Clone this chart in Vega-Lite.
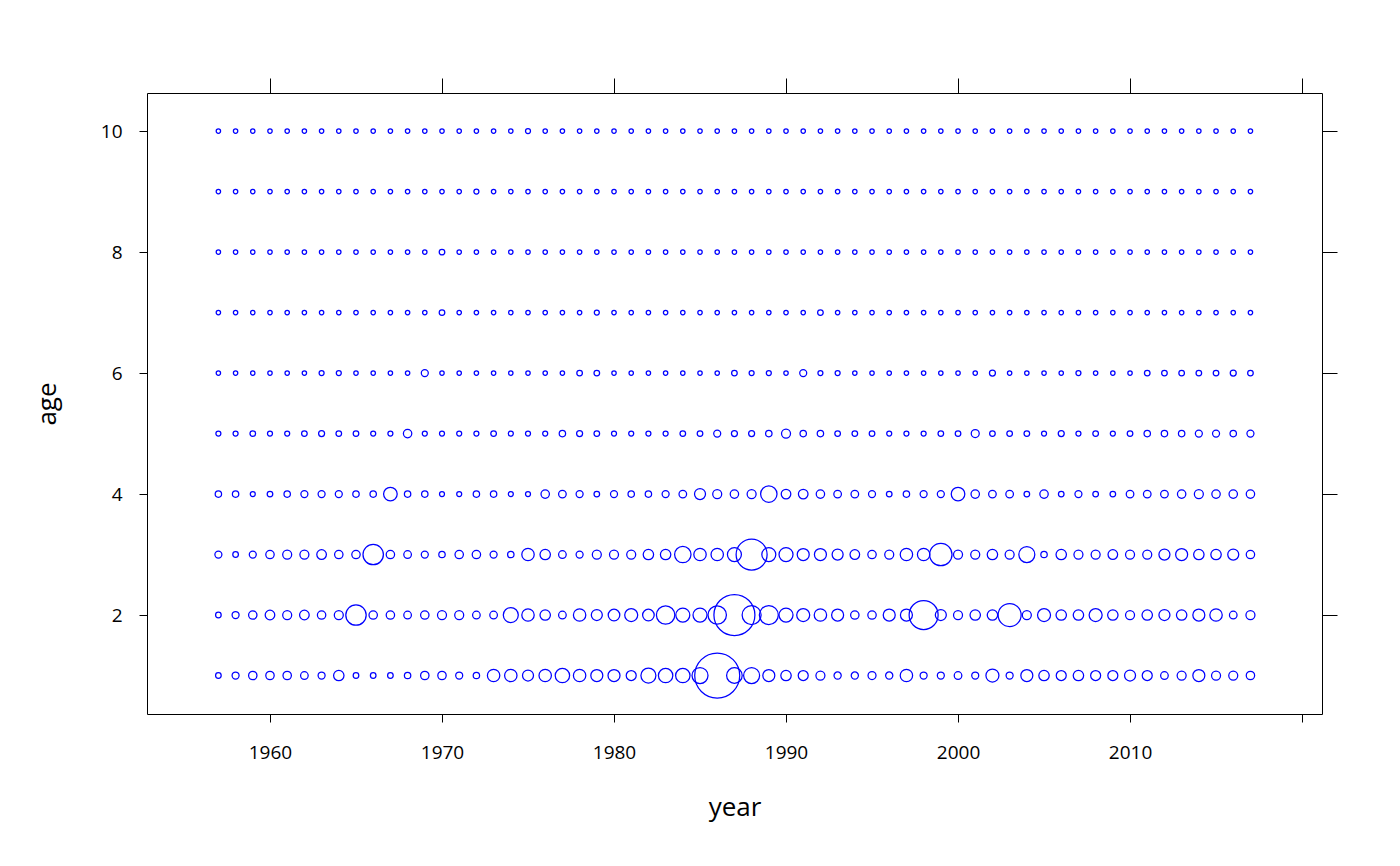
{
"$schema":"https://vega.github.io/schema/vega-lite/v6.json",
"width":1175,"height":621,"autosize":"none",
"padding":{"left":147,"top":93,"right":78,"bottom":152},
"background":"white",
"config":{"view":{"stroke":"black","strokeWidth":1},"axis":{"grid":false,"domain":false,"tickColor":"black","tickSize":8,"labelColor":"black","labelFont":"Open Sans","labelFontSize":19,"titleFont":"Open Sans","titleFontWeight":"normal","titleFontSize":26,"titleColor":"black"}},
"datasets":{"d":[
{"year":1957,"age":1,"r":2.8},{"year":1958,"age":1,"r":3.5},{"year":1959,"age":1,"r":4.2},{"year":1960,"age":1,"r":4.2},{"year":1961,"age":1,"r":4.2},{"year":1962,"age":1,"r":3.8},{"year":1963,"age":1,"r":3.5},{"year":1964,"age":1,"r":5.2},{"year":1965,"age":1,"r":2.8},{"year":1966,"age":1,"r":2.8},{"year":1967,"age":1,"r":2.8},{"year":1968,"age":1,"r":3.2},{"year":1969,"age":1,"r":4.2},{"year":1970,"age":1,"r":4.2},{"year":1971,"age":1,"r":3.5},{"year":1972,"age":1,"r":3.2},{"year":1973,"age":1,"r":6.2},{"year":1974,"age":1,"r":6.2},{"year":1975,"age":1,"r":5.5},{"year":1976,"age":1,"r":6.2},
{"year":1977,"age":1,"r":7.2},{"year":1978,"age":1,"r":6.2},{"year":1979,"age":1,"r":6},{"year":1980,"age":1,"r":6},{"year":1981,"age":1,"r":5},{"year":1982,"age":1,"r":7.5},{"year":1983,"age":1,"r":7.2},{"year":1984,"age":1,"r":7.2},{"year":1985,"age":1,"r":8},{"year":1986,"age":1,"r":22.5},{"year":1987,"age":1,"r":7.8},{"year":1988,"age":1,"r":8},{"year":1989,"age":1,"r":6},{"year":1990,"age":1,"r":5.2},{"year":1991,"age":1,"r":5},{"year":1992,"age":1,"r":4.5},{"year":1993,"age":1,"r":3.6},{"year":1994,"age":1,"r":3.6},{"year":1995,"age":1,"r":4},{"year":1996,"age":1,"r":3.6},
{"year":1997,"age":1,"r":6.2},{"year":1998,"age":1,"r":3.5},{"year":1999,"age":1,"r":3.5},{"year":2000,"age":1,"r":3.8},{"year":2001,"age":1,"r":3.5},{"year":2002,"age":1,"r":6.5},{"year":2003,"age":1,"r":3.5},{"year":2004,"age":1,"r":6},{"year":2005,"age":1,"r":5.2},{"year":2006,"age":1,"r":5},{"year":2007,"age":1,"r":5.2},{"year":2008,"age":1,"r":5},{"year":2009,"age":1,"r":5},{"year":2010,"age":1,"r":5.5},{"year":2011,"age":1,"r":5},{"year":2012,"age":1,"r":3.8},{"year":2013,"age":1,"r":4.5},{"year":2014,"age":1,"r":6},{"year":2015,"age":1,"r":4.5},{"year":2016,"age":1,"r":4.5},{"year":2017,"age":1,"r":4.2},
{"year":1957,"age":2,"r":2.8},{"year":1958,"age":2,"r":3.5},{"year":1959,"age":2,"r":4.2},{"year":1960,"age":2,"r":4.8},{"year":1961,"age":2,"r":4.5},{"year":1962,"age":2,"r":4.8},{"year":1963,"age":2,"r":4.2},{"year":1964,"age":2,"r":4.5},{"year":1965,"age":2,"r":10.2},{"year":1966,"age":2,"r":4.2},{"year":1967,"age":2,"r":4.2},{"year":1968,"age":2,"r":3.8},{"year":1969,"age":2,"r":4.2},{"year":1970,"age":2,"r":4.5},{"year":1971,"age":2,"r":4.5},{"year":1972,"age":2,"r":3.8},{"year":1973,"age":2,"r":3.8},{"year":1974,"age":2,"r":7.5},{"year":1975,"age":2,"r":6.2},{"year":1976,"age":2,"r":5.2},
{"year":1977,"age":2,"r":3.8},{"year":1978,"age":2,"r":6.2},{"year":1979,"age":2,"r":5.5},{"year":1980,"age":2,"r":5.8},{"year":1981,"age":2,"r":6.5},{"year":1982,"age":2,"r":5.8},{"year":1983,"age":2,"r":9.2},{"year":1984,"age":2,"r":7},{"year":1985,"age":2,"r":7},{"year":1986,"age":2,"r":9.2},{"year":1987,"age":2,"r":20.5},{"year":1988,"age":2,"r":9.5},{"year":1989,"age":2,"r":9.5},{"year":1990,"age":2,"r":7},{"year":1991,"age":2,"r":6.5},{"year":1992,"age":2,"r":6.2},{"year":1993,"age":2,"r":6},{"year":1994,"age":2,"r":4.2},{"year":1995,"age":2,"r":4.2},{"year":1996,"age":2,"r":6},
{"year":1997,"age":2,"r":6},{"year":1998,"age":2,"r":14.5},{"year":1999,"age":2,"r":5.5},{"year":2000,"age":2,"r":4.5},{"year":2001,"age":2,"r":5.2},{"year":2002,"age":2,"r":5.2},{"year":2003,"age":2,"r":11.5},{"year":2004,"age":2,"r":4.5},{"year":2005,"age":2,"r":6.5},{"year":2006,"age":2,"r":5.2},{"year":2007,"age":2,"r":5.2},{"year":2008,"age":2,"r":6.5},{"year":2009,"age":2,"r":5.2},{"year":2010,"age":2,"r":4.5},{"year":2011,"age":2,"r":5.2},{"year":2012,"age":2,"r":5.5},{"year":2013,"age":2,"r":5.2},{"year":2014,"age":2,"r":6},{"year":2015,"age":2,"r":6.2},{"year":2016,"age":2,"r":3.8},{"year":2017,"age":2,"r":4.5},
{"year":1957,"age":3,"r":3.5},{"year":1958,"age":3,"r":2.8},{"year":1959,"age":3,"r":3.5},{"year":1960,"age":3,"r":4.2},{"year":1961,"age":3,"r":4.5},{"year":1962,"age":3,"r":4.5},{"year":1963,"age":3,"r":4.8},{"year":1964,"age":3,"r":4.2},{"year":1965,"age":3,"r":4.2},{"year":1966,"age":3,"r":10.2},{"year":1967,"age":3,"r":4.2},{"year":1968,"age":3,"r":3.8},{"year":1969,"age":3,"r":3.5},{"year":1970,"age":3,"r":3.2},{"year":1971,"age":3,"r":4.2},{"year":1972,"age":3,"r":4.2},{"year":1973,"age":3,"r":3.5},{"year":1974,"age":3,"r":3.2},{"year":1975,"age":3,"r":6.2},{"year":1976,"age":3,"r":5.2},
{"year":1977,"age":3,"r":3.8},{"year":1978,"age":3,"r":3.5},{"year":1979,"age":3,"r":4.5},{"year":1980,"age":3,"r":4.5},{"year":1981,"age":3,"r":4.5},{"year":1982,"age":3,"r":5.2},{"year":1983,"age":3,"r":5.2},{"year":1984,"age":3,"r":8.2},{"year":1985,"age":3,"r":6.2},{"year":1986,"age":3,"r":6.2},{"year":1987,"age":3,"r":7},{"year":1988,"age":3,"r":15.5},{"year":1989,"age":3,"r":7},{"year":1990,"age":3,"r":7},{"year":1991,"age":3,"r":6},{"year":1992,"age":3,"r":6},{"year":1993,"age":3,"r":5.5},{"year":1994,"age":3,"r":4.8},{"year":1995,"age":3,"r":4.2},{"year":1996,"age":3,"r":4.5},
{"year":1997,"age":3,"r":6.2},{"year":1998,"age":3,"r":6.2},{"year":1999,"age":3,"r":11.2},{"year":2000,"age":3,"r":4.5},{"year":2001,"age":3,"r":4.5},{"year":2002,"age":3,"r":5.2},{"year":2003,"age":3,"r":4.5},{"year":2004,"age":3,"r":8},{"year":2005,"age":3,"r":3.2},{"year":2006,"age":3,"r":5.2},{"year":2007,"age":3,"r":4.5},{"year":2008,"age":3,"r":4.5},{"year":2009,"age":3,"r":4.8},{"year":2010,"age":3,"r":4.5},{"year":2011,"age":3,"r":4.5},{"year":2012,"age":3,"r":5.5},{"year":2013,"age":3,"r":6},{"year":2014,"age":3,"r":5.2},{"year":2015,"age":3,"r":5.2},{"year":2016,"age":3,"r":5.5},{"year":2017,"age":3,"r":4.2},
{"year":1957,"age":4,"r":3.2},{"year":1958,"age":4,"r":3.2},{"year":1959,"age":4,"r":2.5},{"year":1960,"age":4,"r":2.8},{"year":1961,"age":4,"r":3.2},{"year":1962,"age":4,"r":3.5},{"year":1963,"age":4,"r":3.5},{"year":1964,"age":4,"r":3.5},{"year":1965,"age":4,"r":3.2},{"year":1966,"age":4,"r":3.2},{"year":1967,"age":4,"r":6.8},{"year":1968,"age":4,"r":3.2},{"year":1969,"age":4,"r":3.2},{"year":1970,"age":4,"r":2.5},{"year":1971,"age":4,"r":2.5},{"year":1972,"age":4,"r":3.2},{"year":1973,"age":4,"r":3.2},{"year":1974,"age":4,"r":2.5},{"year":1975,"age":4,"r":2.5},{"year":1976,"age":4,"r":4.2},
{"year":1977,"age":4,"r":3.8},{"year":1978,"age":4,"r":3.5},{"year":1979,"age":4,"r":2.8},{"year":1980,"age":4,"r":3.5},{"year":1981,"age":4,"r":3.2},{"year":1982,"age":4,"r":3.2},{"year":1983,"age":4,"r":3.5},{"year":1984,"age":4,"r":3.8},{"year":1985,"age":4,"r":5.5},{"year":1986,"age":4,"r":4.5},{"year":1987,"age":4,"r":4.2},{"year":1988,"age":4,"r":4.5},{"year":1989,"age":4,"r":8.2},{"year":1990,"age":4,"r":4.8},{"year":1991,"age":4,"r":4.8},{"year":1992,"age":4,"r":4.2},{"year":1993,"age":4,"r":3.8},{"year":1994,"age":4,"r":3.8},{"year":1995,"age":4,"r":3.5},{"year":1996,"age":4,"r":2.8},
{"year":1997,"age":4,"r":3.2},{"year":1998,"age":4,"r":3.5},{"year":1999,"age":4,"r":3.5},{"year":2000,"age":4,"r":6.8},{"year":2001,"age":4,"r":4.2},{"year":2002,"age":4,"r":3.8},{"year":2003,"age":4,"r":3.8},{"year":2004,"age":4,"r":2.8},{"year":2005,"age":4,"r":4.2},{"year":2006,"age":4,"r":2.8},{"year":2007,"age":4,"r":3.5},{"year":2008,"age":4,"r":2.8},{"year":2009,"age":4,"r":2.8},{"year":2010,"age":4,"r":3.8},{"year":2011,"age":4,"r":3.8},{"year":2012,"age":4,"r":3.8},{"year":2013,"age":4,"r":4.2},{"year":2014,"age":4,"r":4.5},{"year":2015,"age":4,"r":4.2},{"year":2016,"age":4,"r":4.2},{"year":2017,"age":4,"r":4.2},
{"year":1957,"age":5,"r":2.5},{"year":1958,"age":5,"r":2.5},{"year":1959,"age":5,"r":2.8},{"year":1960,"age":5,"r":2.5},{"year":1961,"age":5,"r":2.5},{"year":1962,"age":5,"r":2.8},{"year":1963,"age":5,"r":3},{"year":1964,"age":5,"r":2.8},{"year":1965,"age":5,"r":2.8},{"year":1966,"age":5,"r":2.5},{"year":1967,"age":5,"r":2.5},{"year":1968,"age":5,"r":4.2},{"year":1969,"age":5,"r":2.5},{"year":1970,"age":5,"r":2.5},{"year":1971,"age":5,"r":2.5},{"year":1972,"age":5,"r":2.5},{"year":1973,"age":5,"r":2.8},{"year":1974,"age":5,"r":2.5},{"year":1975,"age":5,"r":2.5},{"year":1976,"age":5,"r":2.5},
{"year":1977,"age":5,"r":3.2},{"year":1978,"age":5,"r":3},{"year":1979,"age":5,"r":2.8},{"year":1980,"age":5,"r":2.5},{"year":1981,"age":5,"r":2.5},{"year":1982,"age":5,"r":2.5},{"year":1983,"age":5,"r":2.5},{"year":1984,"age":5,"r":2.8},{"year":1985,"age":5,"r":2.8},{"year":1986,"age":5,"r":3.5},{"year":1987,"age":5,"r":3},{"year":1988,"age":5,"r":3},{"year":1989,"age":5,"r":3.2},{"year":1990,"age":5,"r":4.5},{"year":1991,"age":5,"r":3.2},{"year":1992,"age":5,"r":3.2},{"year":1993,"age":5,"r":2.8},{"year":1994,"age":5,"r":2.8},{"year":1995,"age":5,"r":2.8},{"year":1996,"age":5,"r":2.5},
{"year":1997,"age":5,"r":2.5},{"year":1998,"age":5,"r":2.5},{"year":1999,"age":5,"r":2.8},{"year":2000,"age":5,"r":2.8},{"year":2001,"age":5,"r":4},{"year":2002,"age":5,"r":2.8},{"year":2003,"age":5,"r":2.8},{"year":2004,"age":5,"r":2.8},{"year":2005,"age":5,"r":2.5},{"year":2006,"age":5,"r":3},{"year":2007,"age":5,"r":2.5},{"year":2008,"age":5,"r":2.8},{"year":2009,"age":5,"r":2.5},{"year":2010,"age":5,"r":2.8},{"year":2011,"age":5,"r":3.2},{"year":2012,"age":5,"r":3.2},{"year":2013,"age":5,"r":3.2},{"year":2014,"age":5,"r":3.5},{"year":2015,"age":5,"r":3.5},{"year":2016,"age":5,"r":3.2},{"year":2017,"age":5,"r":3.5},
{"year":1957,"age":6,"r":2.2},{"year":1958,"age":6,"r":2.2},{"year":1959,"age":6,"r":2.2},{"year":1960,"age":6,"r":2.2},{"year":1961,"age":6,"r":2.2},{"year":1962,"age":6,"r":2.2},{"year":1963,"age":6,"r":2.5},{"year":1964,"age":6,"r":2.5},{"year":1965,"age":6,"r":2.2},{"year":1966,"age":6,"r":2.2},{"year":1967,"age":6,"r":2.2},{"year":1968,"age":6,"r":2.2},{"year":1969,"age":6,"r":3.5},{"year":1970,"age":6,"r":2.2},{"year":1971,"age":6,"r":2.2},{"year":1972,"age":6,"r":2.2},{"year":1973,"age":6,"r":2.2},{"year":1974,"age":6,"r":2.2},{"year":1975,"age":6,"r":2.2},{"year":1976,"age":6,"r":2.2},
{"year":1977,"age":6,"r":2.2},{"year":1978,"age":6,"r":2.8},{"year":1979,"age":6,"r":2.8},{"year":1980,"age":6,"r":2.2},{"year":1981,"age":6,"r":2.2},{"year":1982,"age":6,"r":2.2},{"year":1983,"age":6,"r":2.2},{"year":1984,"age":6,"r":2.2},{"year":1985,"age":6,"r":2.2},{"year":1986,"age":6,"r":2.2},{"year":1987,"age":6,"r":2.8},{"year":1988,"age":6,"r":2.5},{"year":1989,"age":6,"r":2.5},{"year":1990,"age":6,"r":2.2},{"year":1991,"age":6,"r":3.5},{"year":1992,"age":6,"r":2.5},{"year":1993,"age":6,"r":2.5},{"year":1994,"age":6,"r":2.2},{"year":1995,"age":6,"r":2.2},{"year":1996,"age":6,"r":2.2},
{"year":1997,"age":6,"r":2.2},{"year":1998,"age":6,"r":2.2},{"year":1999,"age":6,"r":2.2},{"year":2000,"age":6,"r":2.2},{"year":2001,"age":6,"r":2.2},{"year":2002,"age":6,"r":3},{"year":2003,"age":6,"r":2.2},{"year":2004,"age":6,"r":2.2},{"year":2005,"age":6,"r":2.2},{"year":2006,"age":6,"r":2.2},{"year":2007,"age":6,"r":2.5},{"year":2008,"age":6,"r":2.2},{"year":2009,"age":6,"r":2.2},{"year":2010,"age":6,"r":2.2},{"year":2011,"age":6,"r":2.8},{"year":2012,"age":6,"r":2.8},{"year":2013,"age":6,"r":2.8},{"year":2014,"age":6,"r":2.8},{"year":2015,"age":6,"r":2.8},{"year":2016,"age":6,"r":3},{"year":2017,"age":6,"r":2.8},
{"year":1957,"age":7,"r":2.2},{"year":1958,"age":7,"r":2.2},{"year":1959,"age":7,"r":2.2},{"year":1960,"age":7,"r":2.2},{"year":1961,"age":7,"r":2.2},{"year":1962,"age":7,"r":2.2},{"year":1963,"age":7,"r":2.2},{"year":1964,"age":7,"r":2.2},{"year":1965,"age":7,"r":2.2},{"year":1966,"age":7,"r":2.2},{"year":1967,"age":7,"r":2.2},{"year":1968,"age":7,"r":2.2},{"year":1969,"age":7,"r":2.2},{"year":1970,"age":7,"r":2.8},{"year":1971,"age":7,"r":2.2},{"year":1972,"age":7,"r":2.2},{"year":1973,"age":7,"r":2.2},{"year":1974,"age":7,"r":2.2},{"year":1975,"age":7,"r":2.2},{"year":1976,"age":7,"r":2.2},
{"year":1977,"age":7,"r":2.2},{"year":1978,"age":7,"r":2.2},{"year":1979,"age":7,"r":2.5},{"year":1980,"age":7,"r":2.2},{"year":1981,"age":7,"r":2.2},{"year":1982,"age":7,"r":2.2},{"year":1983,"age":7,"r":2.2},{"year":1984,"age":7,"r":2.2},{"year":1985,"age":7,"r":2.2},{"year":1986,"age":7,"r":2.2},{"year":1987,"age":7,"r":2.2},{"year":1988,"age":7,"r":2.2},{"year":1989,"age":7,"r":2.2},{"year":1990,"age":7,"r":2.2},{"year":1991,"age":7,"r":2.2},{"year":1992,"age":7,"r":2.8},{"year":1993,"age":7,"r":2.2},{"year":1994,"age":7,"r":2.2},{"year":1995,"age":7,"r":2.2},{"year":1996,"age":7,"r":2.2},
{"year":1997,"age":7,"r":2.2},{"year":1998,"age":7,"r":2.2},{"year":1999,"age":7,"r":2.2},{"year":2000,"age":7,"r":2.2},{"year":2001,"age":7,"r":2.2},{"year":2002,"age":7,"r":2.2},{"year":2003,"age":7,"r":2.2},{"year":2004,"age":7,"r":2.2},{"year":2005,"age":7,"r":2.2},{"year":2006,"age":7,"r":2.2},{"year":2007,"age":7,"r":2.2},{"year":2008,"age":7,"r":2.2},{"year":2009,"age":7,"r":2.2},{"year":2010,"age":7,"r":2.2},{"year":2011,"age":7,"r":2.2},{"year":2012,"age":7,"r":2.2},{"year":2013,"age":7,"r":2.2},{"year":2014,"age":7,"r":2.2},{"year":2015,"age":7,"r":2.2},{"year":2016,"age":7,"r":2.2},{"year":2017,"age":7,"r":2.2},
{"year":1957,"age":8,"r":2.2},{"year":1958,"age":8,"r":2.2},{"year":1959,"age":8,"r":2.2},{"year":1960,"age":8,"r":2.2},{"year":1961,"age":8,"r":2.2},{"year":1962,"age":8,"r":2.2},{"year":1963,"age":8,"r":2.2},{"year":1964,"age":8,"r":2.2},{"year":1965,"age":8,"r":2.2},{"year":1966,"age":8,"r":2.2},{"year":1967,"age":8,"r":2.2},{"year":1968,"age":8,"r":2.2},{"year":1969,"age":8,"r":2.2},{"year":1970,"age":8,"r":2.8},{"year":1971,"age":8,"r":2.2},{"year":1972,"age":8,"r":2.2},{"year":1973,"age":8,"r":2.2},{"year":1974,"age":8,"r":2.2},{"year":1975,"age":8,"r":2.2},{"year":1976,"age":8,"r":2.2},
{"year":1977,"age":8,"r":2.2},{"year":1978,"age":8,"r":2.2},{"year":1979,"age":8,"r":2.2},{"year":1980,"age":8,"r":2.2},{"year":1981,"age":8,"r":2.2},{"year":1982,"age":8,"r":2.2},{"year":1983,"age":8,"r":2.2},{"year":1984,"age":8,"r":2.2},{"year":1985,"age":8,"r":2.2},{"year":1986,"age":8,"r":2.2},{"year":1987,"age":8,"r":2.2},{"year":1988,"age":8,"r":2.2},{"year":1989,"age":8,"r":2.2},{"year":1990,"age":8,"r":2.2},{"year":1991,"age":8,"r":2.2},{"year":1992,"age":8,"r":2.2},{"year":1993,"age":8,"r":2.2},{"year":1994,"age":8,"r":2.2},{"year":1995,"age":8,"r":2.2},{"year":1996,"age":8,"r":2.2},
{"year":1997,"age":8,"r":2.2},{"year":1998,"age":8,"r":2.2},{"year":1999,"age":8,"r":2.2},{"year":2000,"age":8,"r":2.2},{"year":2001,"age":8,"r":2.2},{"year":2002,"age":8,"r":2.2},{"year":2003,"age":8,"r":2.2},{"year":2004,"age":8,"r":2.2},{"year":2005,"age":8,"r":2.2},{"year":2006,"age":8,"r":2.2},{"year":2007,"age":8,"r":2.2},{"year":2008,"age":8,"r":2.2},{"year":2009,"age":8,"r":2.2},{"year":2010,"age":8,"r":2.2},{"year":2011,"age":8,"r":2.2},{"year":2012,"age":8,"r":2.2},{"year":2013,"age":8,"r":2.2},{"year":2014,"age":8,"r":2.2},{"year":2015,"age":8,"r":2.2},{"year":2016,"age":8,"r":2.2},{"year":2017,"age":8,"r":2.2},
{"year":1957,"age":9,"r":2.2},{"year":1958,"age":9,"r":2.2},{"year":1959,"age":9,"r":2.2},{"year":1960,"age":9,"r":2.2},{"year":1961,"age":9,"r":2.2},{"year":1962,"age":9,"r":2.2},{"year":1963,"age":9,"r":2.2},{"year":1964,"age":9,"r":2.2},{"year":1965,"age":9,"r":2.2},{"year":1966,"age":9,"r":2.2},{"year":1967,"age":9,"r":2.2},{"year":1968,"age":9,"r":2.2},{"year":1969,"age":9,"r":2.2},{"year":1970,"age":9,"r":2.2},{"year":1971,"age":9,"r":2.2},{"year":1972,"age":9,"r":2.5},{"year":1973,"age":9,"r":2.2},{"year":1974,"age":9,"r":2.2},{"year":1975,"age":9,"r":2.2},{"year":1976,"age":9,"r":2.2},
{"year":1977,"age":9,"r":2.2},{"year":1978,"age":9,"r":2.2},{"year":1979,"age":9,"r":2.2},{"year":1980,"age":9,"r":2.2},{"year":1981,"age":9,"r":2.2},{"year":1982,"age":9,"r":2.2},{"year":1983,"age":9,"r":2.2},{"year":1984,"age":9,"r":2.2},{"year":1985,"age":9,"r":2.2},{"year":1986,"age":9,"r":2.2},{"year":1987,"age":9,"r":2.2},{"year":1988,"age":9,"r":2.2},{"year":1989,"age":9,"r":2.2},{"year":1990,"age":9,"r":2.2},{"year":1991,"age":9,"r":2.2},{"year":1992,"age":9,"r":2.2},{"year":1993,"age":9,"r":2.2},{"year":1994,"age":9,"r":2.2},{"year":1995,"age":9,"r":2.2},{"year":1996,"age":9,"r":2.2},
{"year":1997,"age":9,"r":2.2},{"year":1998,"age":9,"r":2.2},{"year":1999,"age":9,"r":2.2},{"year":2000,"age":9,"r":2.2},{"year":2001,"age":9,"r":2.2},{"year":2002,"age":9,"r":2.2},{"year":2003,"age":9,"r":2.2},{"year":2004,"age":9,"r":2.2},{"year":2005,"age":9,"r":2.2},{"year":2006,"age":9,"r":2.2},{"year":2007,"age":9,"r":2.2},{"year":2008,"age":9,"r":2.2},{"year":2009,"age":9,"r":2.2},{"year":2010,"age":9,"r":2.2},{"year":2011,"age":9,"r":2.2},{"year":2012,"age":9,"r":2.2},{"year":2013,"age":9,"r":2.2},{"year":2014,"age":9,"r":2.2},{"year":2015,"age":9,"r":2.2},{"year":2016,"age":9,"r":2.2},{"year":2017,"age":9,"r":2.2},
{"year":1957,"age":10,"r":2.2},{"year":1958,"age":10,"r":2.2},{"year":1959,"age":10,"r":2.2},{"year":1960,"age":10,"r":2.2},{"year":1961,"age":10,"r":2.2},{"year":1962,"age":10,"r":2.2},{"year":1963,"age":10,"r":2.2},{"year":1964,"age":10,"r":2.2},{"year":1965,"age":10,"r":2.2},{"year":1966,"age":10,"r":2.2},{"year":1967,"age":10,"r":2.2},{"year":1968,"age":10,"r":2.2},{"year":1969,"age":10,"r":2.2},{"year":1970,"age":10,"r":2.2},{"year":1971,"age":10,"r":2.2},{"year":1972,"age":10,"r":2.2},{"year":1973,"age":10,"r":2.2},{"year":1974,"age":10,"r":2.2},{"year":1975,"age":10,"r":2.5},{"year":1976,"age":10,"r":2.2},
{"year":1977,"age":10,"r":2.2},{"year":1978,"age":10,"r":2.2},{"year":1979,"age":10,"r":2.2},{"year":1980,"age":10,"r":2.2},{"year":1981,"age":10,"r":2.2},{"year":1982,"age":10,"r":2.2},{"year":1983,"age":10,"r":2.2},{"year":1984,"age":10,"r":2.2},{"year":1985,"age":10,"r":2.2},{"year":1986,"age":10,"r":2.2},{"year":1987,"age":10,"r":2.2},{"year":1988,"age":10,"r":2.2},{"year":1989,"age":10,"r":2.2},{"year":1990,"age":10,"r":2.2},{"year":1991,"age":10,"r":2.2},{"year":1992,"age":10,"r":2.2},{"year":1993,"age":10,"r":2.2},{"year":1994,"age":10,"r":2.2},{"year":1995,"age":10,"r":2.2},{"year":1996,"age":10,"r":2.2},
{"year":1997,"age":10,"r":2.2},{"year":1998,"age":10,"r":2.2},{"year":1999,"age":10,"r":2.2},{"year":2000,"age":10,"r":2.2},{"year":2001,"age":10,"r":2.2},{"year":2002,"age":10,"r":2.2},{"year":2003,"age":10,"r":2.2},{"year":2004,"age":10,"r":2.2},{"year":2005,"age":10,"r":2.2},{"year":2006,"age":10,"r":2.2},{"year":2007,"age":10,"r":2.2},{"year":2008,"age":10,"r":2.2},{"year":2009,"age":10,"r":2.2},{"year":2010,"age":10,"r":2.2},{"year":2011,"age":10,"r":2.2},{"year":2012,"age":10,"r":2.2},{"year":2013,"age":10,"r":2.2},{"year":2014,"age":10,"r":2.2},{"year":2015,"age":10,"r":2.2},{"year":2016,"age":10,"r":2.2},{"year":2017,"age":10,"r":2.2}
]},
"data":{"name":"d"},
"layer":[
{"mark":{"type":"point","shape":"circle","filled":false,"color":"#0000ff","strokeWidth":1.25,"opacity":1},
 "encoding":{
  "x":{"field":"year","type":"quantitative","scale":{"domain":[1952.85,2021.16],"nice":false,"zero":false},
       "axis":{"orient":"bottom","values":[1960,1970,1980,1990,2000,2010,2020],"format":"d","labelExpr":"datum.value > 2015 ? '' : datum.label","title":"year","labelPadding":21,"titlePadding":32}},
  "y":{"field":"age","type":"quantitative","scale":{"domain":[0.364,10.63],"nice":false,"zero":false},
       "axis":{"orient":"left","values":[2,4,6,8,10],"title":"age","labelPadding":17,"titlePadding":40}},
  "size":{"field":"r","type":"quantitative","scale":{"type":"pow","exponent":2,"domain":[0,22.5],"range":[0,2025]},"legend":null}
 }},
{"mark":{"type":"point","opacity":0},
 "encoding":{
  "x":{"field":"year","type":"quantitative","axis":{"orient":"top","values":[1960,1970,1980,1990,2000,2010,2020],"labels":false,"title":null,"tickSize":15}},
  "y":{"field":"age","type":"quantitative","axis":{"orient":"right","values":[2,4,6,8,10],"labels":false,"title":null,"tickSize":15}}
 }}
],
"resolve":{"axis":{"x":"independent","y":"independent"}}
}
